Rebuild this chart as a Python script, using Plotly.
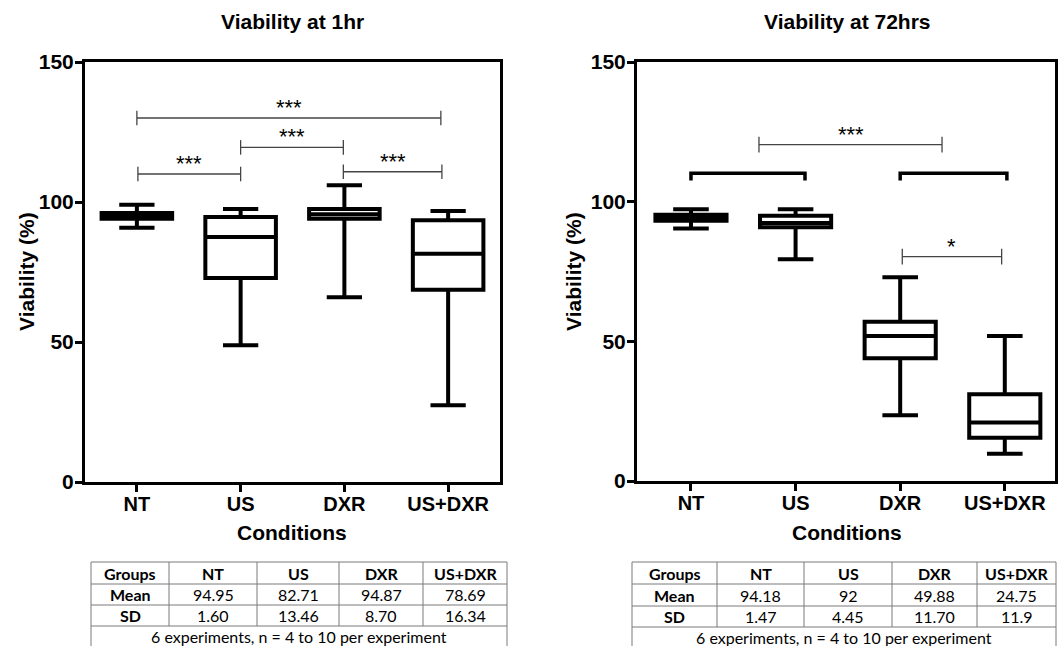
import plotly.graph_objects as go

# ---------------- data ----------------
categories = ["NT", "US", "DXR", "US+DXR"]

# Viability at 1hr (box statistics)
hr1_upper = [99.0, 97.5, 106.0, 96.8]
hr1_q3 = [96.1, 94.6, 97.5, 93.5]
hr1_median = [95.1, 87.5, 95.6, 81.5]
hr1_q1 = [94.0, 72.9, 94.0, 68.7]
hr1_lower = [90.8, 48.8, 66.0, 27.4]

# Viability at 72hrs
hr72_upper = [97.3, 97.3, 72.9, 51.9]
hr72_q3 = [95.3, 95.0, 57.0, 31.1]
hr72_median = [94.3, 92.4, 51.9, 20.9]
hr72_q1 = [93.2, 90.8, 43.9, 15.5]
hr72_lower = [90.4, 79.4, 23.5, 9.8]

# significance brackets: (from, to, height, label)
hr1_brackets_from = [0.0, 0.01, 1.0, 1.99]
hr1_brackets_to = [2.93, 1.0, 1.99, 2.94]
hr1_brackets_y = [130.0, 110.0, 119.5, 110.8]
hr1_brackets_lab = ["***", "***", "***", "***"]

hr72_brackets_from = [0.65, 2.02]
hr72_brackets_to = [2.4, 2.97]
hr72_brackets_y = [120.4, 80.3]
hr72_brackets_lab = ["***", "*"]

# group brackets (72hrs)
hr72_groups_from = [0.0, 2.0]
hr72_groups_to = [1.09, 3.02]
hr72_groups_y = [110.2, 110.2]

# tables
table_groups = ["Groups"] + categories
hr1_mean = ["94.95", "82.71", "94.87", "78.69"]
hr1_sd = ["1.60", "13.46", "8.70", "16.34"]
hr72_mean = ["94.18", "92", "49.88", "24.75"]
hr72_sd = ["1.47", "4.45", "11.70", "11.9"]
footer_text = "6 experiments, n = 4 to 10 per experiment"

yticks = [0, 50, 100, 150]

# ---------------- layout helpers ----------------
W, H = 1058, 646


def px(x):
    return x / W


def py(y):
    return 1 - y / H


FONT = "Liberation Sans"
TFONT = "Lato"

fig = go.Figure()

xpos = list(range(len(categories)))

fig.add_trace(go.Box(
    x=xpos, q1=hr1_q1, median=hr1_median, q3=hr1_q3,
    lowerfence=hr1_lower, upperfence=hr1_upper,
    width=0.68, whiskerwidth=0.5, boxpoints=False,
    line=dict(color="black", width=4), fillcolor="white",
    showlegend=False, xaxis="x", yaxis="y", hoverinfo="skip"))

fig.add_trace(go.Box(
    x=xpos, q1=hr72_q1, median=hr72_median, q3=hr72_q3,
    lowerfence=hr72_lower, upperfence=hr72_upper,
    width=0.68, whiskerwidth=0.5, boxpoints=False,
    line=dict(color="black", width=4), fillcolor="white",
    showlegend=False, xaxis="x2", yaxis="y2", hoverinfo="skip"))

axis_common = dict(
    showline=True, linewidth=3, linecolor="black", mirror=True,
    ticks="outside", ticklen=7, tickwidth=3, tickcolor="black",
    showgrid=False, zeroline=False, automargin=False,
)
xfont = dict(family=FONT, size=20, color="black", weight="bold")
yfont = dict(family=FONT, size=21, color="black", weight="bold")

fig.update_layout(
    template="none",
    width=W, height=H,
    margin=dict(l=0, r=0, t=0, b=0, pad=0),
    paper_bgcolor="white", plot_bgcolor="white",
    xaxis=dict(domain=[px(85), px(500)], range=[-0.5, 3.5], tickfont=xfont,
               ticklabelstandoff=-5,
               tickvals=xpos, ticktext=categories, anchor="y", **axis_common),
    yaxis=dict(domain=[py(482), py(62)], range=[0, 150], tickfont=yfont,
               ticklabelstandoff=-3,
               tickvals=yticks, anchor="x", **axis_common),
    xaxis2=dict(domain=[px(637), px(1055)], range=[-0.516, 3.48], tickfont=xfont,
                ticklabelstandoff=-5,
                tickvals=xpos, ticktext=categories, anchor="y2", **axis_common),
    yaxis2=dict(domain=[py(481), py(62)], range=[0, 150], tickfont=yfont,
                ticklabelstandoff=-3,
                tickvals=yticks, anchor="x2", **axis_common),
)

shapes = []
annotations = []

# brackets
def add_brackets(xref, yref, xf, xt, ys, labs, half=2.6):
    for a, b, y, lab in zip(xf, xt, ys, labs):
        shapes.append(dict(type="line", xref=xref, yref=yref, x0=a, x1=b, y0=y, y1=y,
                           line=dict(color="#444", width=1.3)))
        for xe in (a, b):
            shapes.append(dict(type="line", xref=xref, yref=yref, x0=xe, x1=xe,
                               y0=y - half, y1=y + half,
                               line=dict(color="#444", width=1.3)))
        annotations.append(dict(xref=xref, yref=yref, x=(a + b) / 2, y=y,
                                text=lab, showarrow=False, yanchor="bottom",
                                yshift=-4,
                                font=dict(family=FONT, size=22, color="black")))


add_brackets("x", "y", hr1_brackets_from, hr1_brackets_to, hr1_brackets_y, hr1_brackets_lab)
add_brackets("x2", "y2", hr72_brackets_from, hr72_brackets_to, hr72_brackets_y, hr72_brackets_lab, half=2.8)

for a, b, y in zip(hr72_groups_from, hr72_groups_to, hr72_groups_y):
    shapes.append(dict(type="path", xref="x2", yref="y2",
                       path=f"M {a},{y - 2.6} L {a},{y} L {b},{y} L {b},{y - 2.6}",
                       line=dict(color="black", width=3.5)))

# titles and axis titles
def text_px(x, y, txt, size, bold=True, family=FONT, angle=0, xanchor="center"):
    annotations.append(dict(xref="paper", yref="paper", x=px(x), y=py(y),
                            text=f"<b>{txt}</b>" if bold else txt, showarrow=False,
                            xanchor=xanchor, yanchor="middle", textangle=angle,
                            font=dict(family=family, size=size, color="black")))


text_px(292, 22, "Viability at 1hr", 21)
text_px(847, 22, "Viability at 72hrs", 21)
text_px(26, 272, "Viability (%)", 21, angle=-90)
text_px(573, 272, "Viability (%)", 21, angle=-90)
text_px(292, 532, "Conditions", 21)
text_px(847, 532, "Conditions", 21)

# tables
def draw_table(xs, ys, means, sds):
    lc = dict(color="#7a7a7a", width=1)
    bottom = H
    for y in ys:
        shapes.append(dict(type="line", xref="paper", yref="paper",
                           x0=px(xs[0]), x1=px(xs[-1]), y0=py(y), y1=py(y), line=lc))
    for x in (xs[0], xs[-1]):
        shapes.append(dict(type="line", xref="paper", yref="paper",
                           x0=px(x), x1=px(x), y0=py(ys[0]), y1=py(bottom), line=lc))
    for x in xs[1:-1]:
        shapes.append(dict(type="line", xref="paper", yref="paper",
                           x0=px(x), x1=px(x), y0=py(ys[0]), y1=py(ys[-1]), line=lc))
    rows = [table_groups, ["Mean"] + means, ["SD"] + sds]
    for r, row in enumerate(rows):
        yc = (ys[r] + ys[r + 1]) / 2
        for c, val in enumerate(row):
            xc = (xs[c] + xs[c + 1]) / 2
            bold = (r == 0 or c == 0)
            text_px(xc, yc, val, 16, bold=bold, family=TFONT)
    text_px((xs[0] + xs[-1]) / 2, ys[-1] + 10, footer_text, 16, bold=False, family=TFONT)


draw_table([91, 169, 257, 339, 423, 507], [562, 584, 605, 626], hr1_mean, hr1_sd)
draw_table([632, 717, 804, 892, 977, 1056], [562, 584, 606, 627], hr72_mean, hr72_sd)

fig.update_layout(shapes=shapes, annotations=annotations)

fig.write_html("out.html",
               config={"displayModeBar": False},
               post_script="document.body.style.margin='0px';document.body.style.overflow='hidden';")
